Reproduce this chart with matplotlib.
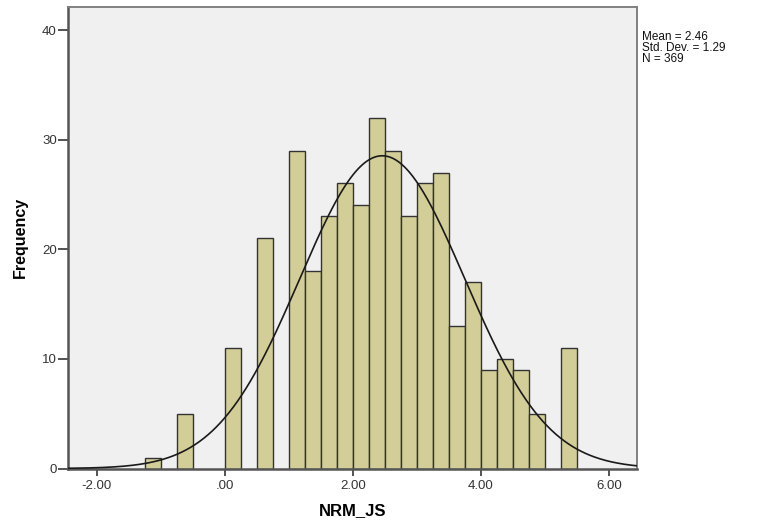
import matplotlib
matplotlib.use('Agg')
import matplotlib.pyplot as plt
import numpy as np

plt.rcParams['font.family'] = ['Liberation Sans', 'DejaVu Sans']

# histogram bins (left edges) and counts
bin_left = [-1.25, -0.75, 0.0, 0.5, 1.0, 1.25, 1.5, 1.75, 2.0, 2.25, 2.5,
            2.75, 3.0, 3.25, 3.5, 3.75, 4.0, 4.25, 4.5, 4.75, 5.25]
counts = [1, 5, 11, 21, 29, 18, 23, 26, 24, 32, 29,
          23, 26, 27, 13, 17, 9, 10, 9, 5, 11]
bin_width = 0.25
mean = 2.46
sd = 1.29
n = 369

x_ticks = [-2.0, 0.0, 2.0, 4.0, 6.0]
x_labels = ['-2.00', '.00', '2.00', '4.00', '6.00']
y_ticks = [0, 10, 20, 30, 40]

fig = plt.figure(figsize=(7.67, 5.29), dpi=100)
ax = fig.add_axes([68 / 767, 1 - 468.5 / 529, (637 - 68) / 767, (468.5 - 7) / 529])
ax.set_facecolor('#f0f0f0')

ax.bar(bin_left, counts, width=bin_width, align='edge', color='#d3ce98',
       edgecolor='#333333', linewidth=1.0, zorder=2)

xlim = (-2.45, 6.44)
xs = np.linspace(xlim[0], xlim[1], 400)
curve = n * bin_width / (sd * np.sqrt(2 * np.pi)) * np.exp(-0.5 * ((xs - mean) / sd) ** 2)
ax.plot(xs, curve, color='#1a1a1a', linewidth=1.2, zorder=3)

ax.set_xlim(*xlim)
ax.set_ylim(0, 42.1)
ax.set_xticks(x_ticks)
ax.set_xticklabels(x_labels)
ax.set_yticks(y_ticks)

ax.tick_params(axis='both', direction='out', width=1.3, color='#444444',
               labelsize=9.5, labelcolor='#333333')
ax.tick_params(axis='x', length=5, pad=3)
ax.tick_params(axis='y', length=7, pad=1)
for side in ['left', 'bottom']:
    ax.spines[side].set_color('#555555')
    ax.spines[side].set_linewidth(1.8)
for side in ['top', 'right']:
    ax.spines[side].set_color('#808080')
    ax.spines[side].set_linewidth(1.4)

ax.set_xlabel('NRM_JS', fontsize=12, fontweight='bold', labelpad=8)
ax.set_ylabel('Frequency', fontsize=11.5, fontweight='bold', labelpad=10)

fig.text(642 / 767, 1 - 31 / 529,
         'Mean = %.2f\nStd. Dev. = %.2f\nN = %d' % (mean, sd, n),
         fontsize=8.5, va='top', ha='left', color='#111111', linespacing=0.9)

fig.savefig('out.png', dpi=100)
